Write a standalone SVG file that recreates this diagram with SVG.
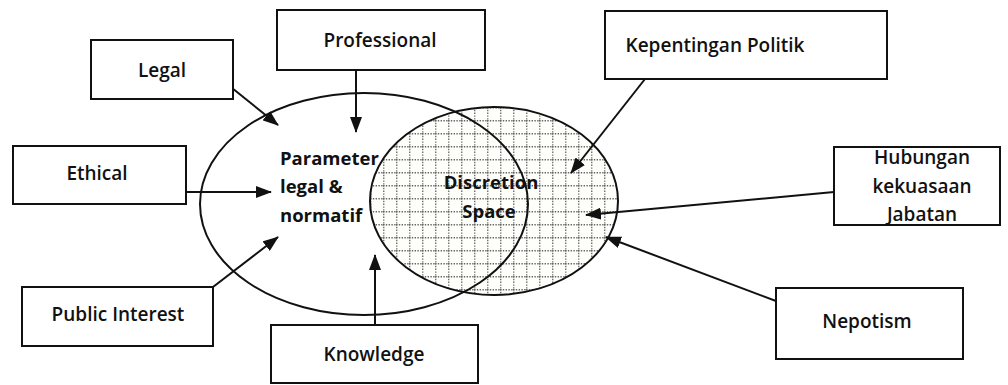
<svg xmlns="http://www.w3.org/2000/svg" width="1008" height="385" viewBox="0 0 1008 385">
<style>
.box{fill:#fff;stroke:#111;stroke-width:2}
.lbl{font-family:"Open Sans","Liberation Sans",sans-serif;font-size:19px;font-weight:600;fill:#111;text-anchor:middle}
.bold{font-family:"Open Sans","Liberation Sans",sans-serif;font-size:18.5px;font-weight:bold;fill:#111}
.conn{stroke:#111;stroke-width:2;fill:none;marker-end:url(#ah)}
.ell{fill:none;stroke:#111;stroke-width:2}
</style>
<defs>
<marker id="ah" viewBox="0 0 16 12" refX="15" refY="6" markerWidth="16" markerHeight="12" markerUnits="userSpaceOnUse" orient="auto">
<path d="M0,0 L16,6 L0,12 Z" fill="#111"/>
</marker>
<pattern id="grid" width="13" height="13" patternUnits="userSpaceOnUse" x="370" y="107">
<rect width="13" height="13" fill="#fefefb"/>
<line x1="0" y1="0.75" x2="13" y2="0.75" stroke="#666" stroke-width="1.3" stroke-dasharray="1.4 1.4"/>
<line x1="0.75" y1="0" x2="0.75" y2="13" stroke="#666" stroke-width="1.3" stroke-dasharray="1.4 1.4"/>
</pattern>
</defs>
<rect width="1008" height="385" fill="#fff"/>

<g id="discretion-space">
<ellipse cx="494" cy="201" rx="124" ry="94" fill="url(#grid)" stroke="#111" stroke-width="2"/>
</g>
<g id="parameter">
<ellipse class="ell" cx="364" cy="204" rx="164" ry="111"/>
<text class="bold" x="280" y="165">Parameter</text>
<text class="bold" x="280" y="193">legal &amp;</text>
<text class="bold" x="280" y="222">normatif</text>
</g>
<g id="discretion-label">
<text class="bold" x="491" y="189" text-anchor="middle">Discretion</text>
<text class="bold" x="489" y="218" text-anchor="middle">Space</text>
</g>

<g id="connectors">
<line class="conn" x1="232" y1="88" x2="278" y2="125"/>
<line class="conn" x1="356" y1="70" x2="356" y2="132"/>
<line class="conn" x1="186" y1="192" x2="271" y2="192"/>
<line class="conn" x1="213" y1="287" x2="278" y2="237"/>
<line class="conn" x1="375" y1="325" x2="375" y2="255"/>
<line class="conn" x1="645" y1="79" x2="571" y2="173"/>
<line class="conn" x1="834" y1="192" x2="586" y2="215"/>
<line class="conn" x1="776" y1="301" x2="606" y2="237"/>
</g>

<g id="legal"><rect class="box" x="91" y="40" width="142" height="59"/><text class="lbl" x="162" y="77">Legal</text></g>
<g id="professional"><rect class="box" x="277" y="10" width="208" height="60"/><text class="lbl" x="380" y="47">Professional</text></g>
<g id="ethical"><rect class="box" x="13" y="146" width="173" height="58"/><text class="lbl" x="97" y="180">Ethical</text></g>
<g id="public-interest"><rect class="box" x="22" y="287" width="191" height="59"/><text class="lbl" x="118" y="321">Public Interest</text></g>
<g id="knowledge"><rect class="box" x="271" y="325" width="207" height="58"/><text class="lbl" x="374" y="361">Knowledge</text></g>
<g id="kepentingan-politik"><rect class="box" x="605" y="11" width="282" height="68"/><text class="lbl" x="715" y="52">Kepentingan Politik</text></g>
<g id="hubungan"><rect class="box" x="834" y="147" width="166" height="78"/>
<text class="lbl" x="922" y="164">Hubungan</text>
<text class="lbl" x="922" y="193">kekuasaan</text>
<text class="lbl" x="922" y="221">Jabatan</text></g>
<g id="nepotism"><rect class="box" x="776" y="288" width="187" height="71"/><text class="lbl" x="867" y="328">Nepotism</text></g>
</svg>
